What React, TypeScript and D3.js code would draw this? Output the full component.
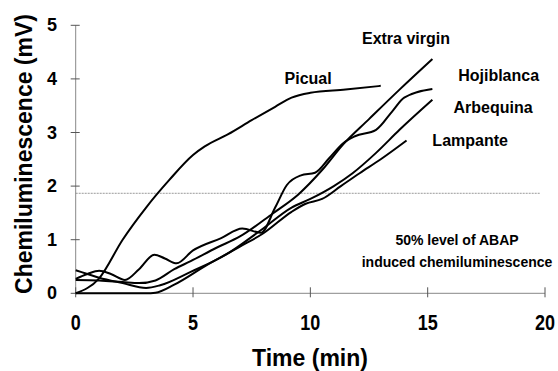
import React from 'react';
import * as d3 from 'd3';

// readings: [time (min), chemiluminescence (mV)]
const picual: [number, number][] = [
  [0, 0], [1, 0.28], [2, 1.0], [3, 1.6], [4, 2.12], [5, 2.58], [5.5, 2.74], [6.5, 2.97],
  [7.5, 3.23], [8.5, 3.48], [9.2, 3.65], [10, 3.74], [11.5, 3.8], [13, 3.87],
];
const extraVirgin: [number, number][] = [
  [0, 0.25], [1, 0.24], [2, 0.21], [2.7, 0.19], [3.4, 0.24], [4.2, 0.45], [4.9, 0.6],
  [6, 0.85], [7, 1.06], [8.4, 1.49], [9.5, 1.85], [10.5, 2.3], [11.4, 2.78], [12.5, 3.25],
  [13.8, 3.8], [15.2, 4.37],
];
const hojiblanca: [number, number][] = [
  [0, 0.27], [0.5, 0.36], [1, 0.42], [1.5, 0.36], [2.1, 0.25], [2.7, 0.45], [3.35, 0.72],
  [3.8, 0.65], [4.3, 0.56], [5, 0.8], [6.2, 1.03], [7.1, 1.21], [7.9, 1.13], [8.5, 1.6],
  [9, 2.02], [9.6, 2.2], [10.2, 2.25], [10.8, 2.52], [11.4, 2.8], [11.9, 2.93], [12.8, 3.05],
  [13.5, 3.4], [14, 3.65], [15.2, 3.81],
];
const arbequina: [number, number][] = [
  [0, 0.43], [0.5, 0.36], [1, 0.29], [2, 0.19], [3, 0.1], [3.6, 0.15], [4.9, 0.4], [6.4, 0.72],
  [7.9, 1.18], [9.2, 1.6], [10, 1.76], [11, 2.0], [11.8, 2.24], [12.8, 2.62], [13.8, 3.05],
  [15.2, 3.61],
];
const lampante: [number, number][] = [
  [0, 0], [1, 0], [2, 0], [3, 0], [3.4, 0.01], [4.2, 0.16], [5.6, 0.53], [7, 0.87], [8, 1.12],
  [9.2, 1.52], [9.8, 1.67], [10.5, 1.76], [11.3, 2.0], [12.1, 2.24], [13, 2.5], [14.1, 2.85],
];

const seriesNames = ['Picual', 'Extra virgin', 'Hojiblanca', 'Arbequina', 'Lampante'];
const seriesData = [picual, extraVirgin, hojiblanca, arbequina, lampante];
// where each label sits (data units)
const labelPos: [number, number][] = [[8.9, 3.9], [12.2, 4.65], [16.3, 3.97], [16.1, 3.36], [15.2, 2.74]];

const xTicks = [0, 5, 10, 15, 20];
const yTicks = [0, 1, 2, 3, 4, 5];
const halfLevel = 1.866;
const noteLines = ['50% level of ABAP', 'induced chemiluminescence'];

const font = '"Liberation Sans", Arial, sans-serif';

export default function App() {
  const width = 558;
  const height = 371;

  const x = d3.scaleLinear().domain([0, 20]).range([75.7, 545]);
  const y = d3.scaleLinear().domain([0, 5]).range([293.3, 25.3]);

  const line = d3
    .line<[number, number]>()
    .x((d) => x(d[0]))
    .y((d) => y(d[1]))
    .curve(d3.curveMonotoneX);

  return (
    <svg
      width={width}
      height={height}
      style={{ position: 'absolute', left: 0, top: 0, background: '#fff' }}
      fontFamily={font}
      fontWeight="bold"
    >
      {/* 50% dotted level */}
      <line x1={x(0)} x2={x(19.8)} y1={y(halfLevel)} y2={y(halfLevel)} stroke="#999" strokeWidth={1} strokeDasharray="2,1" />

      {/* axes */}
      <line x1={x(0)} x2={x(0)} y1={y(0)} y2={y(5)} stroke="#888" strokeWidth={1} />
      <line x1={x(0)} x2={x(20)} y1={y(0)} y2={y(0)} stroke="#888" strokeWidth={1} />
      {yTicks.map((t) => (
        <g key={'y' + t}>
          <line x1={x(0) - 5} x2={x(0) + 4} y1={y(t)} y2={y(t)} stroke="#555" />
          <text x={57} y={y(t) + 6} fontSize={18} textAnchor="end">{t}</text>
        </g>
      ))}
      {xTicks.map((t) => (
        <g key={'x' + t}>
          <line x1={x(t)} x2={x(t)} y1={y(0) - 6} y2={y(0) + 4} stroke="#555" />
          <text transform={`translate(${x(t)},330) scale(1,1.25)`} fontSize={18} textAnchor="middle">{t}</text>
        </g>
      ))}

      {/* curves */}
      {seriesData.map((s, i) => (
        <path key={seriesNames[i]} d={line(s) ?? ''} fill="none" stroke="#000" strokeWidth={2} />
      ))}

      {/* series labels */}
      {seriesNames.map((n, i) => (
        <text key={'l' + n} x={x(labelPos[i][0])} y={y(labelPos[i][1])} fontSize={16}>{n}</text>
      ))}

      {noteLines.map((t, i) => (
        <text key={t} x={457} y={245 + i * 22} fontSize={14} textAnchor="middle">{t}</text>
      ))}

      {/* axis titles */}
      <text x={310} y={366} fontSize={23} textAnchor="middle">Time (min)</text>
      <text transform="translate(32,154) rotate(-90)" fontSize={23} textAnchor="middle">Chemiluminescence (mV)</text>
    </svg>
  );
}
